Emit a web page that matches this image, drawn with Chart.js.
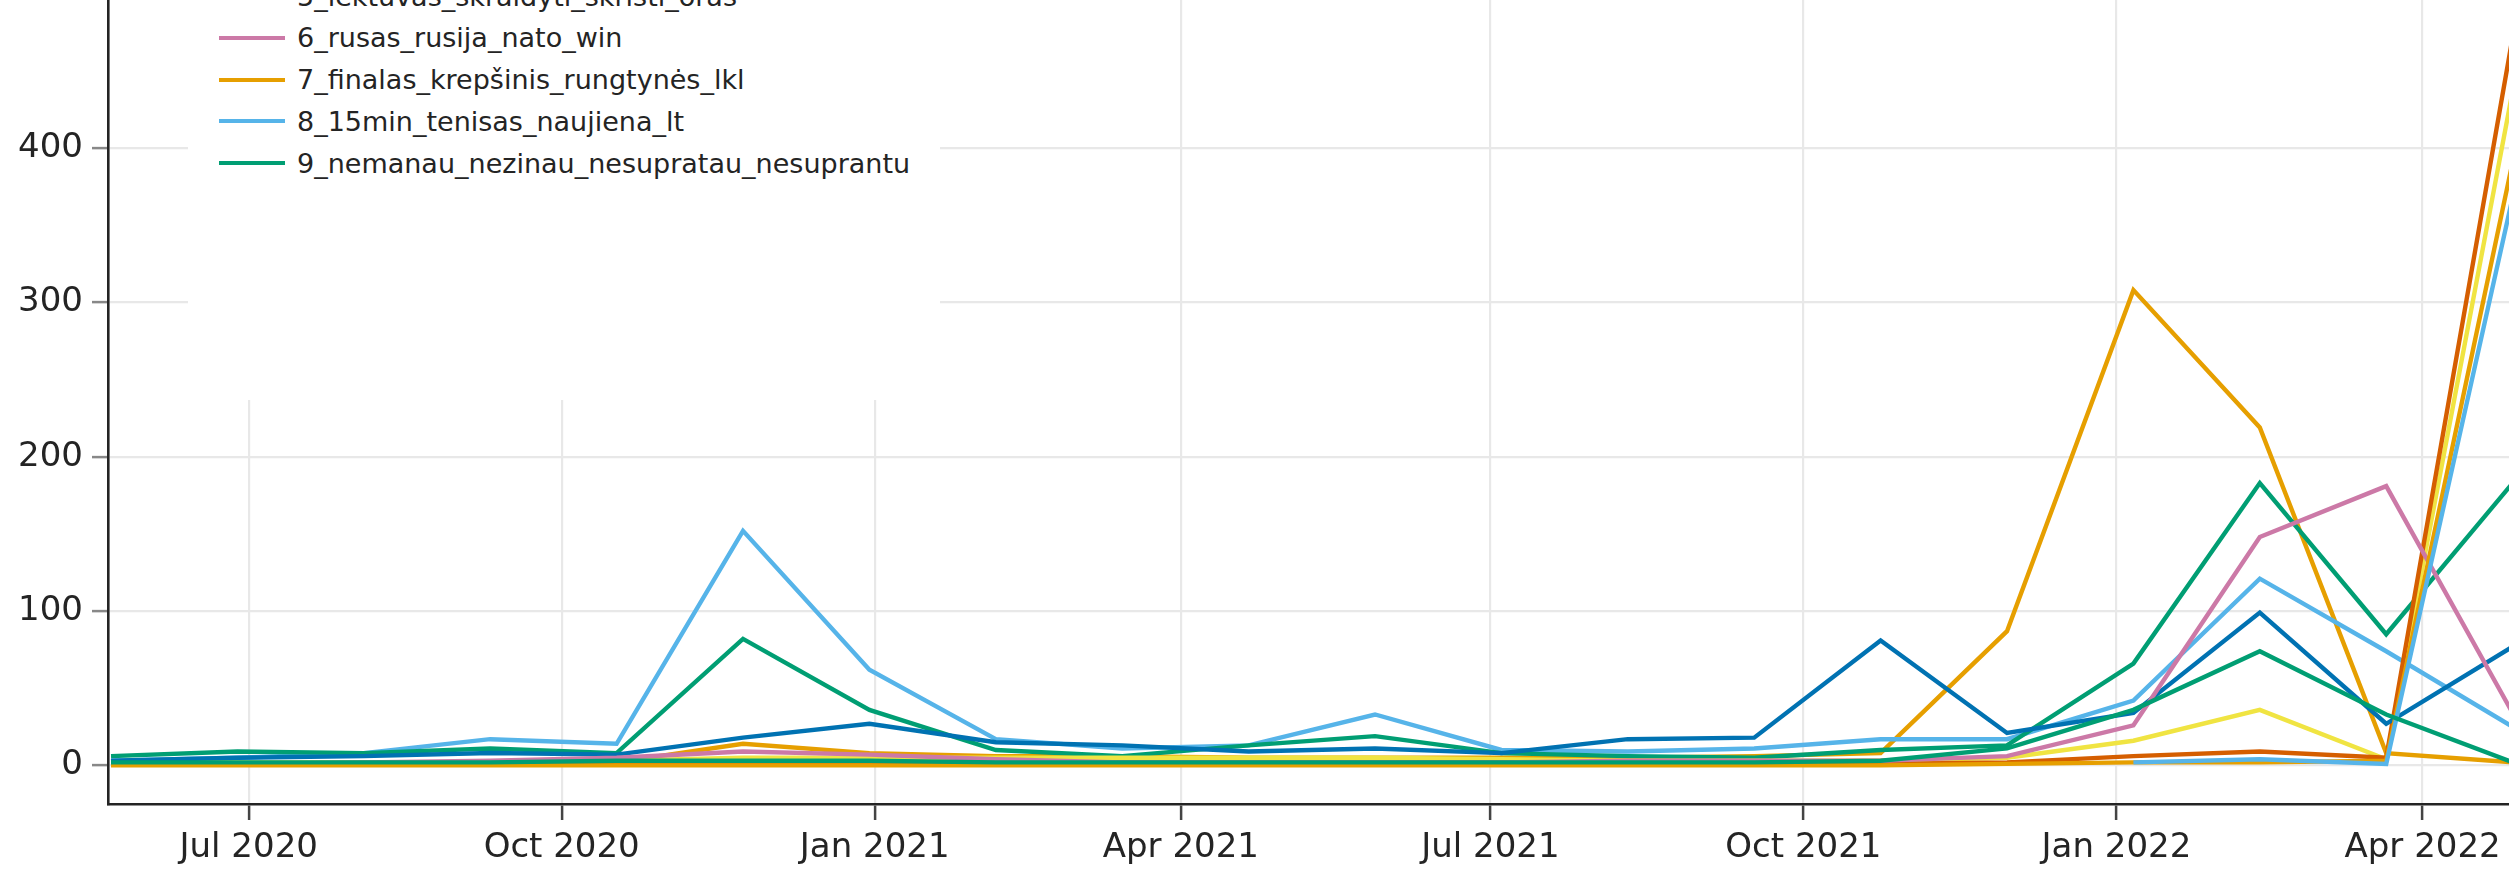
<!DOCTYPE html>
<html>
<head>
<meta charset="utf-8">
<title>Topics over time</title>
<script src="https://cdn.jsdelivr.net/npm/chart.js@4.4.1/dist/chart.umd.min.js"></script>
<style>
  html, body { margin: 0; padding: 0; background: #fff; overflow: hidden; }
  #wrap { position: relative; width: 2509px; height: 869px; }
  #legend { position: absolute; left: 188px; top: 0; width: 752px; height: 400px; background: #fff; overflow: hidden; }
  .item { position: absolute; left: 0; height: 40px; display: flex; align-items: center;
          font: 27px "DejaVu Sans", Verdana, sans-serif; color: #242424; white-space: nowrap; }
  .item .swatch { width: 66px; height: 4px; margin-left: 31px; margin-right: 12px; flex: none; }
</style>
</head>
<body>
<div id="wrap">
  <canvas id="myChart" width="2509" height="869"></canvas>
  <div id="legend"></div>
</div>
<script>
// bin timestamps (left edges of the 20 time bins)
var binDates = [
  '2020-05-21T12:30Z', '2020-06-27T16:12Z', '2020-08-03T19:55Z', '2020-09-09T23:38Z',
  '2020-10-17T03:22Z', '2020-11-23T07:05Z', '2020-12-30T10:48Z', '2021-02-05T14:31Z',
  '2021-03-14T18:14Z', '2021-04-20T21:58Z', '2021-05-28T01:41Z', '2021-07-04T05:24Z',
  '2021-08-10T09:07Z', '2021-09-16T12:50Z', '2021-10-23T16:34Z', '2021-11-29T20:17Z',
  '2022-01-06T00:00Z', '2022-02-12T03:43Z', '2022-03-21T07:26Z', '2022-04-27T11:10Z'
];

// frequency per bin, one array per topic (null = topic not present in that bin)
var topic0 = [1, 1, 1, 1, 2, 14, 8, 6, 6, 5, 5, 5, 5, 6, 8, 87, 308, 219, 8, 2];
var topic1 = [3, 5, 8, 17, 14, 152, 62, 17, 11, 13, 33, 10, 9, 11, 17, 17, 42, 121, 74, 25];
var topic2 = [6, 9, 8, 11, 8, 82, 36, 10, 6, 13, 19, 8, 6, 5, 10, 13, 66, 183, 85, 183];
var topic3 = [2, 2, 2, 2, 3, 5, 5, 5, 5, 5, 5, 4, 3, 3, 3, 5, 16, 36, 4, 437];
var topic4 = [1, 1, 1, 1, 1, 2, 2, 2, 2, 2, 2, 2, 1, 1, 1, 2, 6, 9, 5, 472];
var topic5 = [3, 5, 6, 8, 7, 18, 27, 15, 13, 9, 11, 8, 17, 18, 81, 21, 34, 99, 27, 77];
var topic6 = [null, 1, 2, 3, 5, 9, 7, 4, 2, 2, 2, 2, 3, 3, 3, 6, 26, 148, 181, 34];
var topic7 = [0, 0, 0, 0, 0, 0, 0, 0, 0, 0, 0, 0, 0, 0, 0, 1, 2, 2, 3, 391];
var topic8 = [null, null, null, null, null, null, null, null, null, null, null, null, null, null, null, null, 2, 4, 1, 368];
var topic9 = [2, 2, 2, 2, 3, 3, 3, 2, 2, 2, 2, 2, 2, 2, 3, 11, 36, 74, 33, 2];

var series = [topic0, topic1, topic2, topic3, topic4, topic5, topic6, topic7, topic8, topic9];
var topicColors = ['#E69F00', '#56B4E9', '#009E73', '#F0E442', '#D55E00', '#0072B2', '#CC79A7'];

// legend entries that show in the picture
var legendTopics = [5, 6, 7, 8, 9];
var legendNames = [
  '5_lėktuvas_skraidyti_skristi_oras',
  '6_rusas_rusija_nato_win',
  '7_finalas_krepšinis_rungtynės_lkl',
  '8_15min_tenisas_naujiena_lt',
  '9_nemanau_nezinau_nesupratau_nesuprantu'
];

// axes
var tickDates = ['2020-07-01', '2020-10-01', '2021-01-01', '2021-04-01', '2021-07-01', '2021-10-01', '2022-01-01', '2022-04-01'];
var tickLabels = ['Jul 2020', 'Oct 2020', 'Jan 2021', 'Apr 2021', 'Jul 2021', 'Oct 2021', 'Jan 2022', 'Apr 2022'];
var yTicks = [0, 100, 200, 300, 400];
var xStart = '2020-05-20T15:20Z';
var xEnd = '2022-04-26T09:40Z';
var yMin = -25;
var yMax = 496;

function toDay(s) {
  if (s.length === 10) s = s + 'T00:00Z';
  return Date.parse(s) / 864e5;
}

Chart.defaults.font.family = '"DejaVu Sans", Verdana, sans-serif';

var datasets = series.map(function(vals, i) {
  return {
    label: 'topic ' + i,
    data: vals.map(function(v, j) { return { x: toDay(binDates[j]), y: v }; }),
    borderColor: topicColors[i % topicColors.length],
    borderWidth: 4.4,
    pointRadius: 0,
    fill: false,
    tension: 0,
    order: series.length - i   // later topics on top, like the original
  };
});

var ctx = document.getElementById('myChart').getContext('2d');
var chart = new Chart(ctx, {
  type: 'line',
  data: { datasets: datasets },
  options: {
    responsive: false,
    animation: false,
    layout: { padding: 0 },
    plugins: { legend: { display: false }, tooltip: { enabled: false } },
    scales: {
      x: {
        type: 'linear',
        min: toDay(xStart),
        max: toDay(xEnd),
        afterBuildTicks: function(s) {
          s.ticks = tickDates.map(function(d) { return { value: toDay(d) }; });
        },
        afterFit: function(s) {
          s.height = 65;
          s.paddingLeft = 0; s.paddingRight = 0;
        },
        ticks: {
          callback: function(v, i) { return tickLabels[i]; },
          color: '#242424',
          font: { size: 34 },
          padding: 8,
          maxRotation: 0,
          autoSkip: false
        },
        grid: { color: '#e8e8e8', lineWidth: 2.2, tickColor: '#444', tickLength: 16, tickWidth: 2.5 },
        border: { color: '#242424', width: 2.6 }
      },
      y: {
        min: yMin,
        max: yMax,
        afterBuildTicks: function(s) {
          s.ticks = yTicks.map(function(v) { return { value: v }; });
        },
        afterFit: function(s) {
          s.width = 108;
          s.paddingTop = 0; s.paddingBottom = 0;
        },
        ticks: { color: '#242424', font: { size: 34 }, padding: 9 },
        grid: { color: '#e8e8e8', lineWidth: 2.2, tickColor: '#888', tickLength: 16, tickWidth: 2.5 },
        border: { color: '#242424', width: 2.6 }
      }
    }
  }
});

// legend box (partly cut off at the top, as in the original)
var legend = document.getElementById('legend');
legendTopics.forEach(function(t, k) {
  var item = document.createElement('div');
  item.className = 'item';
  item.style.top = (-4 + 41.8 * k - 20) + 'px';
  var sw = document.createElement('span');
  sw.className = 'swatch';
  sw.style.background = topicColors[t % topicColors.length];
  var txt = document.createElement('span');
  txt.textContent = legendNames[k];
  item.appendChild(sw);
  item.appendChild(txt);
  legend.appendChild(item);
});
</script>
</body>
</html>
